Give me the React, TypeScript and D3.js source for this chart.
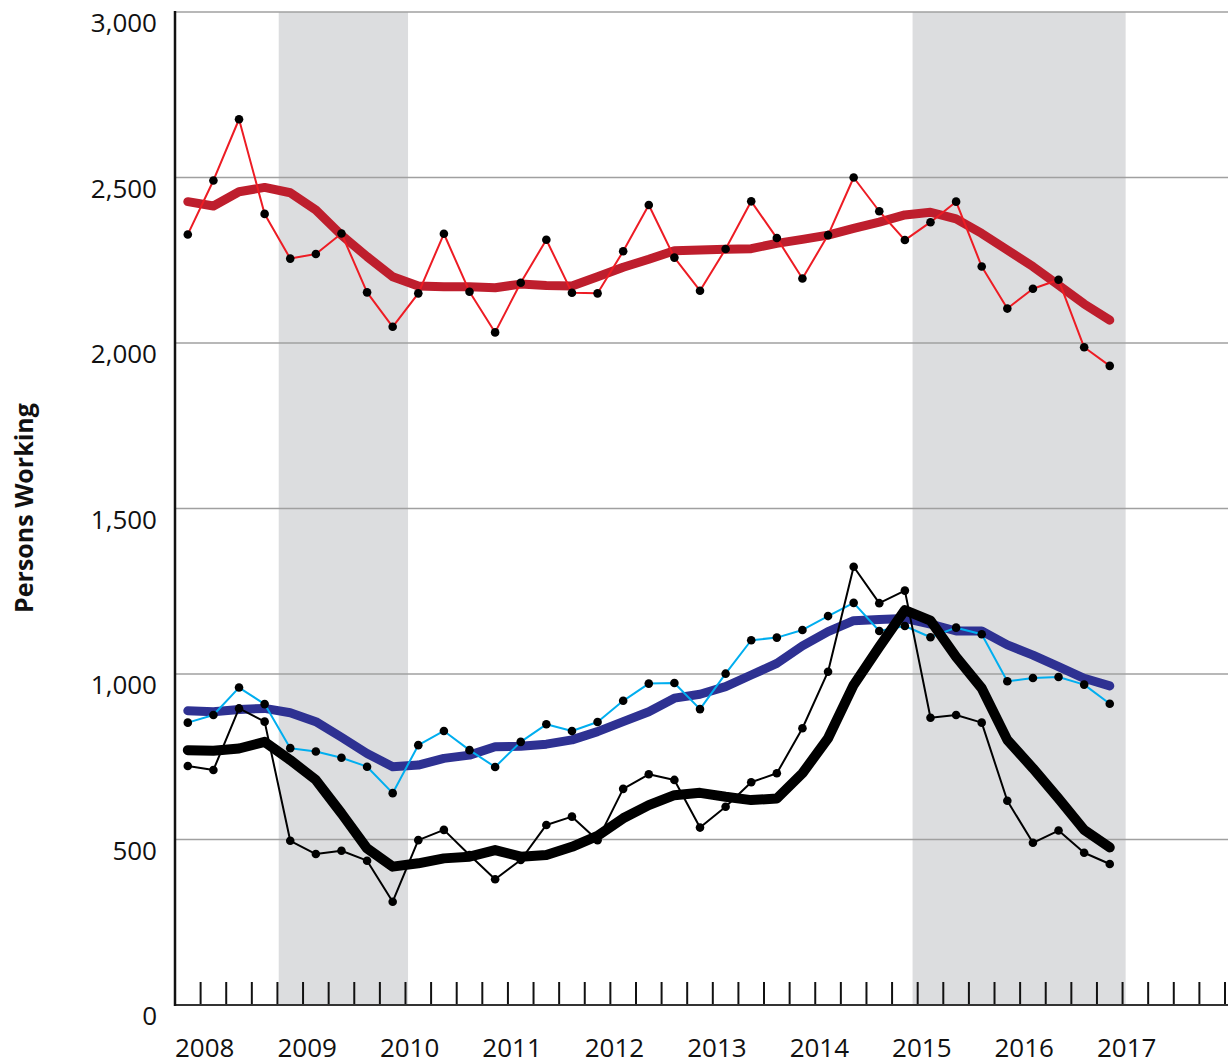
import React, { useRef, useEffect } from "react";
import * as d3 from "d3";

// quarterly values, 2008 Q1 .. 2017 Q1
const years = ["2008", "2009", "2010", "2011", "2012", "2013", "2014", "2015", "2016", "2017"];
const yTicks = [0, 500, 1000, 1500, 2000, 2500, 3000];

const redRaw = [2328, 2491, 2676, 2390, 2255, 2269, 2331, 2153, 2049, 2150, 2330, 2155, 2032, 2182, 2312, 2152, 2150, 2277, 2417, 2258, 2158, 2284, 2428, 2317, 2195, 2326, 2500, 2398, 2311, 2365, 2427, 2231, 2104, 2164, 2191, 1987, 1931];
const redTrend = [2427, 2414, 2457, 2470, 2454, 2402, 2326, 2261, 2200, 2172, 2170, 2170, 2167, 2178, 2174, 2172, 2200, 2229, 2253, 2279, 2281, 2283, 2285, 2301, 2313, 2326, 2346, 2365, 2387, 2395, 2375, 2331, 2281, 2231, 2175, 2118, 2069];
const blueRaw = [853, 876, 959, 909, 776, 766, 747, 720, 640, 785, 828, 770, 719, 795, 848, 828, 855, 919, 971, 973, 894, 1001, 1102, 1110, 1133, 1175, 1215, 1130, 1145, 1111, 1140, 1120, 978, 988, 991, 968, 910];
const blueTrend = [889, 886, 893, 896, 883, 856, 809, 760, 720, 725, 745, 755, 780, 782, 788, 801, 826, 856, 886, 927, 939, 962, 997, 1032, 1085, 1128, 1161, 1165, 1168, 1151, 1130, 1130, 1088, 1057, 1022, 987, 964];
const blackRaw = [722, 710, 896, 856, 496, 456, 466, 436, 312, 498, 529, 453, 380, 438, 544, 569, 498, 653, 697, 680, 536, 599, 673, 700, 836, 1007, 1324, 1214, 1252, 868, 876, 853, 617, 490, 527, 460, 426];
const blackTrend = [770, 768, 775, 795, 740, 680, 579, 473, 418, 428, 443, 448, 468, 448, 453, 478, 511, 564, 604, 634, 641, 629, 619, 624, 700, 806, 967, 1082, 1193, 1161, 1052, 957, 801, 715, 624, 529, 476];

// shaded periods, in quarters from start of 2008
const shadeStart = [4.05, 28.8];
const shadeEnd = [9.1, 37.12];

const W = 1228,
	H = 1064;
const FONT = "'Open Sans', 'Noto Sans', sans-serif";

const drawChart = (svgEl: SVGSVGElement) => {
	const svg = d3.select(svgEl);
	svg.selectAll("*").remove();
	svg.attr("width", W).attr("height", H);

	const x = d3.scaleLinear().domain([0, 41]).range([175, 1225]);
	const y = d3.scaleLinear().domain([0, 3000]).range([1005, 12]);

	// shaded bands
	svg
		.append("g")
		.selectAll("rect")
		.data(shadeStart)
		.enter()
		.append("rect")
		.attr("x", (d) => x(d))
		.attr("width", (d, i) => x(shadeEnd[i]) - x(d))
		.attr("y", y(3000))
		.attr("height", y(0) - y(3000))
		.attr("fill", "#dcdddf");

	// gridlines
	svg
		.append("g")
		.selectAll("line")
		.data(yTicks.filter((d) => d > 0))
		.enter()
		.append("line")
		.attr("x1", 175)
		.attr("x2", W)
		.attr("y1", (d) => y(d))
		.attr("y2", (d) => y(d))
		.attr("stroke", "#a0a0a0")
		.attr("stroke-width", 1.3);

	// y labels
	svg
		.append("g")
		.selectAll("text")
		.data(yTicks)
		.enter()
		.append("text")
		.attr("x", 157)
		.attr("y", (d) => y(d) + 20)
		.attr("text-anchor", "end")
		.attr("font-family", FONT)
		.attr("font-size", "26px")
		.attr("fill", "#111")
		.text((d) => d3.format(",")(d));

	svg
		.append("text")
		.attr("transform", "translate(33,508) rotate(-90)")
		.attr("text-anchor", "middle")
		.attr("font-family", FONT)
		.attr("font-weight", "bold")
		.attr("font-size", "25px")
		.attr("fill", "#111")
		.text("Persons Working");

	// x ticks
	svg
		.append("g")
		.selectAll("line")
		.data(d3.range(1, 42))
		.enter()
		.append("line")
		.attr("x1", (d) => x(d))
		.attr("x2", (d) => x(d))
		.attr("y1", 982)
		.attr("y2", 1005)
		.attr("stroke", "#111")
		.attr("stroke-width", 2);

	svg
		.append("g")
		.selectAll("text")
		.data(years)
		.enter()
		.append("text")
		.attr("x", (d, i) => x(i * 4))
		.attr("y", 1057)
		.attr("font-family", FONT)
		.attr("font-size", "26px")
		.attr("fill", "#111")
		.text((d) => d);

	// axes
	svg.append("line").attr("x1", 175).attr("x2", W).attr("y1", 1005).attr("y2", 1005).attr("stroke", "#333").attr("stroke-width", 2);
	svg.append("line").attr("x1", 175).attr("x2", 175).attr("y1", 11).attr("y2", 1006).attr("stroke", "#111").attr("stroke-width", 2.5);

	const line = d3
		.line<number>()
		.x((d, i) => x(i + 0.5))
		.y((d) => y(d));

	const series = [
		{ data: redTrend, color: "#be1e2d", width: 9, dots: false },
		{ data: redRaw, color: "#ed1c24", width: 2, dots: true },
		{ data: blueTrend, color: "#2e3192", width: 9, dots: false },
		{ data: blueRaw, color: "#00aeef", width: 2, dots: true },
		{ data: blackTrend, color: "#000", width: 10, dots: false },
		{ data: blackRaw, color: "#000", width: 2, dots: true },
	];

	series.forEach((s) => {
		svg
			.append("path")
			.attr("d", line(s.data))
			.attr("fill", "none")
			.attr("stroke", s.color)
			.attr("stroke-width", s.width)
			.attr("stroke-linecap", "round")
			.attr("stroke-linejoin", "round");
	});

	series
		.filter((s) => s.dots)
		.forEach((s) => {
			svg
				.append("g")
				.selectAll("circle")
				.data(s.data)
				.enter()
				.append("circle")
				.attr("cx", (d, i) => x(i + 0.5))
				.attr("cy", (d) => y(d))
				.attr("r", 4.3)
				.attr("fill", "#000");
		});
};

const App = () => {
	const svg = useRef<SVGSVGElement>(null);

	useEffect(() => {
		if (svg.current) drawChart(svg.current);
	}, []);

	return (
		<div style={{ position: "absolute", left: 0, top: 0 }}>
			<svg ref={svg} style={{ display: "block", background: "#fff" }} />
		</div>
	);
};

export default App;
